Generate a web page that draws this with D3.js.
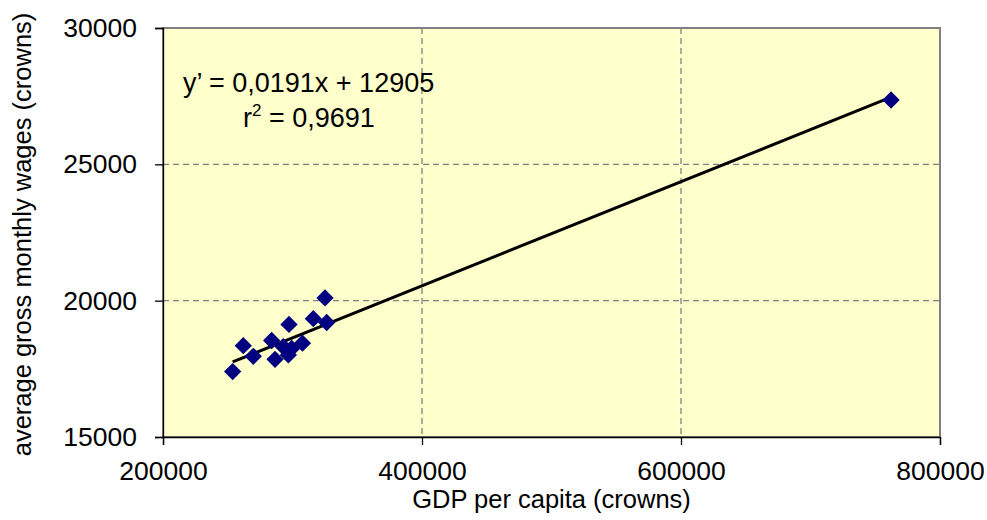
<!DOCTYPE html>
<html>
<head>
<meta charset="utf-8">
<script src="https://cdn.jsdelivr.net/npm/d3@7"></script>
<style>
  html, body { margin: 0; padding: 0; background: #ffffff; }
  svg { display: block; }
  text { font-family: "Liberation Sans", Arial, sans-serif; fill: #000; }
</style>
</head>
<body>
<svg id="chart" width="987" height="520"></svg>
<script>
// GDP per capita vs. average gross monthly wages by region (crowns)
const gdpPerCapita = [253800, 262000, 269700, 283900, 286500, 292900, 296800, 299400, 297300, 307700, 316100, 325100, 326400, 762200];
const monthlyWages = [17400, 18350, 17960, 18540, 17850, 18310, 18010, 18250, 19130, 18440, 19340, 20100, 19200, 27360];

const xTicks = [200000, 400000, 600000, 800000];
const yTicks = [15000, 20000, 25000, 30000];

// Linear trend y' = a·x + b
const slope = 0.0191;
const intercept = 12905;
const equationLabel = "y’ = 0,0191x + 12905";
const r2Label = "0,9691";

const xTitle = "GDP per capita (crowns)";
const yTitle = "average gross monthly wages (crowns)";

const plot = { left: 163, right: 940, top: 28, bottom: 437 };
const svg = d3.select("#chart");

const x = d3.scaleLinear().domain([200000, 800000]).range([plot.left, plot.right]);
const y = d3.scaleLinear().domain([15000, 30000]).range([plot.bottom, plot.top]);

// plot background
svg.append("rect")
  .attr("x", plot.left).attr("y", plot.top)
  .attr("width", plot.right - plot.left).attr("height", plot.bottom - plot.top)
  .attr("fill", "#ffffcc").attr("stroke", "#808080").attr("stroke-width", 2);

// dashed gridlines
svg.append("g").selectAll("line").data(yTicks.filter(d => d > 15000)).join("line")
  .attr("x1", plot.left).attr("x2", plot.right)
  .attr("y1", d => y(d)).attr("y2", d => y(d))
  .attr("stroke", "#808080").attr("stroke-width", 1.3).attr("stroke-dasharray", "6,4");
svg.append("g").selectAll("line").data(xTicks.filter(d => d > 200000 && d < 800000)).join("line")
  .attr("x1", d => x(d)).attr("x2", d => x(d))
  .attr("y1", plot.top).attr("y2", plot.bottom)
  .attr("stroke", "#808080").attr("stroke-width", 1.3).attr("stroke-dasharray", "6,4");

// axes
const xAxis = d3.axisBottom(x).tickValues(xTicks).tickSize(8).tickPadding(18).tickFormat(d3.format("d"));
const yAxis = d3.axisLeft(y).tickValues(yTicks).tickSize(8).tickPadding(18).tickFormat(d3.format("d"));

const gx = svg.append("g").attr("transform", `translate(0,${plot.bottom})`).call(xAxis);
const gy = svg.append("g").attr("transform", `translate(${plot.left},0)`).call(yAxis);
[gx, gy].forEach(g => {
  g.select(".domain").attr("stroke", "#000").attr("stroke-width", 1.3);
  g.selectAll(".tick line").attr("stroke", "#000").attr("stroke-width", 1.3);
  g.selectAll(".tick text")
    .attr("font-family", "Liberation Sans, Arial, sans-serif")
    .attr("font-size", 26.5).attr("fill", "#000");
});
gx.selectAll(".tick text").attr("dy", "0.66em");

// trend line
const xMin = d3.min(gdpPerCapita), xMax = d3.max(gdpPerCapita);
svg.append("line")
  .attr("x1", x(xMin)).attr("y1", y(slope * xMin + intercept))
  .attr("x2", x(xMax)).attr("y2", y(slope * xMax + intercept))
  .attr("stroke", "#000").attr("stroke-width", 3);

// data points as diamonds
const diamond = d3.symbol().type(d3.symbolSquare).size(150);
svg.append("g").selectAll("path").data(gdpPerCapita.map((g, i) => [g, monthlyWages[i]])).join("path")
  .attr("d", diamond)
  .attr("transform", d => `translate(${x(d[0])},${y(d[1])}) rotate(45)`)
  .attr("fill", "#000080");

// equation and r²
svg.append("text").attr("x", 183).attr("y", 92).attr("font-size", 27).text(equationLabel);
const r2 = svg.append("text").attr("x", 243).attr("y", 127).attr("font-size", 27);
r2.append("tspan").text("r");
r2.append("tspan").attr("font-size", 17).attr("dy", -11).text("2");
r2.append("tspan").attr("dy", 11).text(" = " + r2Label);

// axis titles
svg.append("text")
  .attr("x", (plot.left + plot.right) / 2).attr("y", 508)
  .attr("text-anchor", "middle").attr("font-size", 25.5).text(xTitle);
svg.append("text")
  .attr("transform", `translate(31,${(plot.top + plot.bottom) / 2 + 2}) rotate(-90)`)
  .attr("text-anchor", "middle").attr("font-size", 25.5).text(yTitle);
</script>
</body>
</html>
